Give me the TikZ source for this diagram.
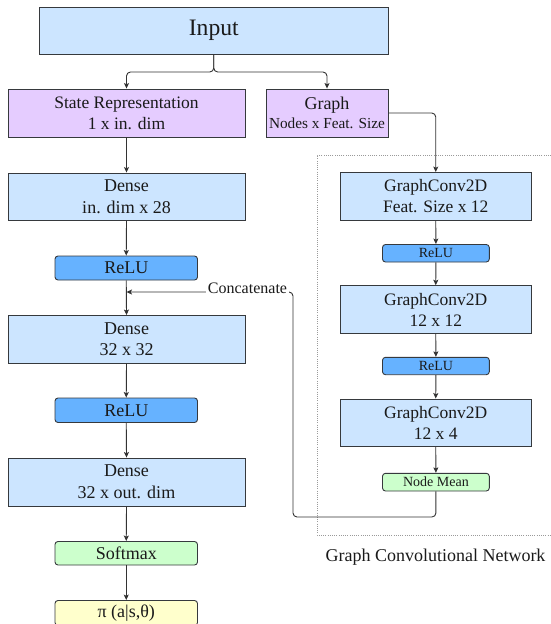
\documentclass[tikz,border=0pt]{standalone}
\usepackage{fontspec}
\setmainfont{Liberation Serif}
\usetikzlibrary{arrows.meta}

\definecolor{bluefill}{HTML}{CCE5FF}
\definecolor{purplefill}{HTML}{E5CCFF}
\definecolor{relufill}{HTML}{66B2FF}
\definecolor{greenfill}{HTML}{CCFFCC}
\definecolor{yellowfill}{HTML}{FFFFCC}
\definecolor{strokec}{HTML}{36393D}
\definecolor{edgec}{HTML}{333333}
\definecolor{txt}{HTML}{1A1A1A}
\definecolor{framec}{HTML}{9A9A9A}

\newcommand{\fs}[1]{\fontsize{#1}{1.2\dimexpr#1pt\relax}\selectfont}

\begin{document}
\begin{tikzpicture}[x=1pt,y=-1pt,
  box/.style={draw=strokec, line width=0.9pt, inner sep=0pt, text=txt, align=center},
  layer/.style={box, fill=bluefill, font=\fs{18}},
  inbox/.style={box, fill=purplefill},
  actbig/.style={box, fill=relufill, rounded corners=3pt, font=\fs{18}},
  actsmall/.style={box, fill=relufill, rounded corners=3pt, font=\fs{14}},
  conv/.style={box, fill=bluefill, font=\fs{17.5}},
  link/.style={draw=edgec, line width=0.9pt, rounded corners=4pt,
    -{Stealth[length=5.5pt,width=5pt,inset=1.2pt]}}
]
\useasboundingbox (0,0) rectangle (551,624);

% frame of the graph convolutional branch
\draw[framec, line width=0.8pt, dash pattern=on 1pt off 1.2pt]
  (560,155) -- (317,155) -- (317,535) -- (560,535);
\node[anchor=base, text=txt, font=\fs{18}] (gcnlabel) at (435.5,561.5) {Graph Convolutional Network};

% input and its two representations
\node[box, fill=bluefill, minimum width=348.5pt, minimum height=47pt, font=\fs{23.6}] (inp) at (213.75,30.5) {Input};
\node[inbox, minimum width=237pt, minimum height=48pt, font=\fs{17.5}] (state) at (126.5,113) {State Representation\\1 x in. dim};
\node[inbox, minimum width=122pt, minimum height=48pt, font=\fs{15.3}] (graph) at (327,113)
  {{\fs{18}Graph}\\Nodes x Feat. Size};

% dense branch
\node[layer, minimum width=237pt, minimum height=47.5pt] (d1) at (126.5,196.75) {Dense\\in. dim x 28};
\node[actbig, minimum width=142.5pt, minimum height=24pt] (r1) at (126.25,268) {ReLU};
\node[layer, minimum width=237pt, minimum height=47.5pt] (d2) at (126.5,339.25) {Dense\\32 x 32};
\node[actbig, minimum width=142.5pt, minimum height=24.5pt] (r2) at (126.25,410.25) {ReLU};
\node[layer, minimum width=237pt, minimum height=48pt] (d3) at (126.5,482) {Dense\\32 x out. dim};
\node[box, fill=greenfill, rounded corners=3pt, minimum width=142.5pt, minimum height=23.5pt, font=\fs{18}] (soft) at (126.25,553.25) {Softmax};
\node[box, fill=yellowfill, rounded corners=3pt, minimum width=142.5pt, minimum height=25pt, font=\fs{18}] (pol) at (126.25,613) {π (a|s,θ)};

% graph convolution branch
\node[conv, minimum width=190.5pt, minimum height=48pt] (g1) at (435.75,196.5) {GraphConv2D\\Feat. Size x 12};
\node[actsmall, minimum width=106.8pt, minimum height=17.5pt] (ra) at (435.9,253.25) {ReLU};
\node[conv, minimum width=190.5pt, minimum height=47.6pt] (g2) at (435.75,309.5) {GraphConv2D\\12 x 12};
\node[actsmall, minimum width=106.8pt, minimum height=17.4pt] (rb) at (435.9,366) {ReLU};
\node[conv, minimum width=190.5pt, minimum height=47.7pt] (g3) at (435.75,422.85) {GraphConv2D\\12 x 4};
\node[box, fill=greenfill, rounded corners=3pt, minimum width=106.8pt, minimum height=17.7pt, font=\fs{14}] (mean) at (435.9,482.15) {Node Mean};

% split of the input
\coordinate (split) at (213.75,72);
\draw[link] (inp.south) -- (split) -| (state.north);
\draw[link] (inp.south) -- (split) -| (graph.north);

% dense chain
\draw[link] (state.south) -- (d1.north);
\draw[link] (d1.south) -- (r1.north);
\draw[link] (r1.south) -- (d2.north);
\draw[link] (d2.south) -- (r2.north);
\draw[link] (r2.south) -- (d3.north);
\draw[link] (d3.south) -- (soft.north);
\draw[link] (soft.south) -- (pol.north);

% graph chain
\draw[link] (graph.east) -| (g1.north);
\draw[link] (g1.south) -- (ra.north);
\draw[link] (ra.south) -- (g2.north);
\draw[link] (g2.south) -- (rb.north);
\draw[link] (rb.south) -- (g3.north);
\draw[link] (g3.south) -- (mean.north);

% concatenation of the pooled graph features
\coordinate (join) at (126.5,292);
\coordinate (low) at (293,517);
\draw[link] (mean.south) |- (low) -- (293,292) -- (join);
\node[anchor=base, fill=white, inner sep=2pt, text=txt, font=\fs{16}] (cat) at (247.5,293.5) {Concatenate};
\end{tikzpicture}
\end{document}
